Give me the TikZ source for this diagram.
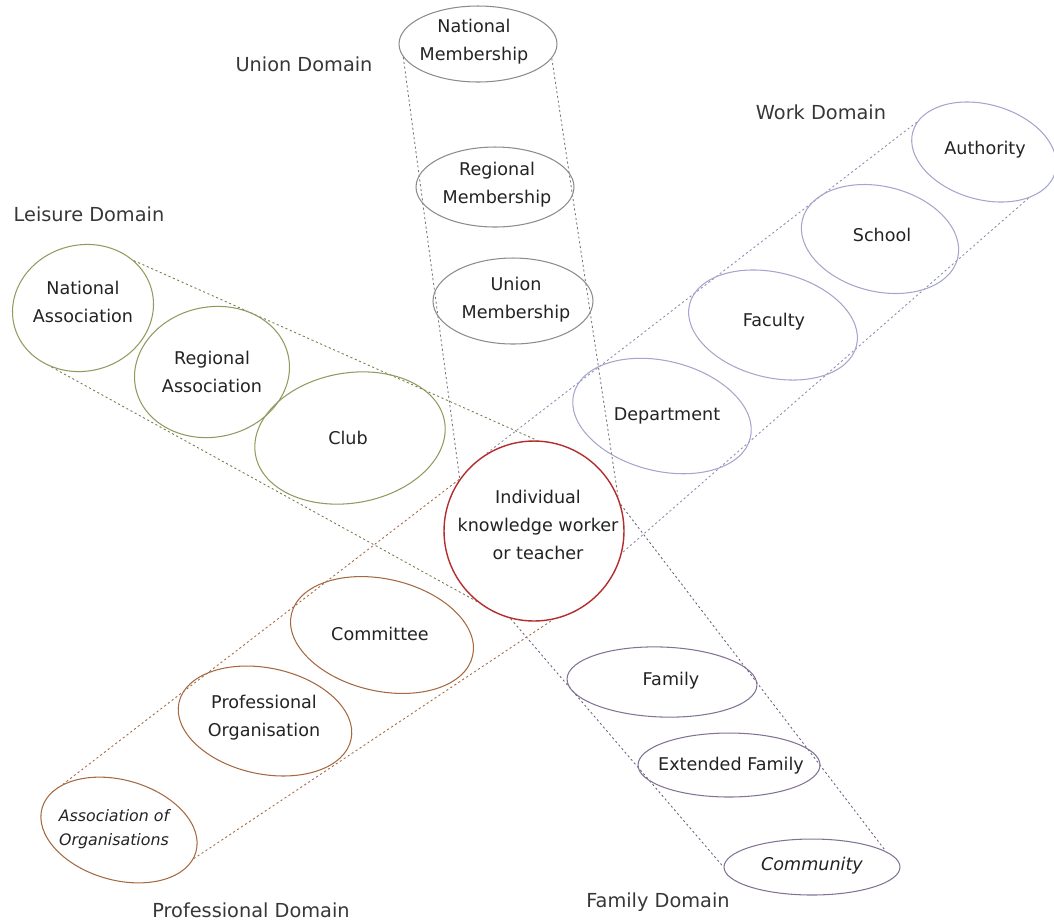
\documentclass[tikz,border=0pt]{standalone}
\usepackage{fontspec}
\setmainfont{DejaVu Sans}
\usetikzlibrary{shapes.geometric,backgrounds}
\definecolor{unionc}{RGB}{140,140,140}
\definecolor{leisurec}{RGB}{145,155,95}
\definecolor{workc}{RGB}{165,165,205}
\definecolor{profc}{RGB}{165,105,65}
\definecolor{familyc}{RGB}{130,115,150}
\definecolor{indc}{RGB}{180,45,45}
\definecolor{txtc}{RGB}{35,35,35}
\definecolor{domc}{RGB}{55,55,55}

\begin{document}
\begin{tikzpicture}[x=0.02cm,y=-0.02cm,
  oval/.style={draw, ellipse, inner sep=0pt, line width=0.6pt},
  lbl/.style={text=txtc, align=center, font=\fontsize{10}{16}\selectfont, inner sep=0pt},
  small/.style={font=\fontsize{9}{14}\selectfont\itshape},
  dom/.style={text=domc, font=\fontsize{11}{13}\selectfont, inner sep=0pt},
  rim/.style={line width=0.5pt, dash pattern=on 1.2pt off 1.5pt}]
\useasboundingbox (0,0) rectangle (1054,921);

% Union domain
\node[oval, unionc, minimum width=3.16cm, minimum height=1.52cm] (natm) at (478,44) {};
\node[oval, unionc, minimum width=3.16cm, minimum height=1.60cm] (regm) at (495,187) {};
\node[oval, unionc, minimum width=3.20cm, minimum height=1.72cm] (unim) at (513,301) {};
\node[lbl] (natmT) at (474,42) {National\\Membership};
\node[lbl] (regmT) at (497,185) {Regional\\Membership};
\node[lbl] (unimT) at (516,300) {Union\\Membership};

% Leisure domain
\node[oval, leisurec, rotate=15, minimum width=2.84cm, minimum height=2.52cm] (natass) at (83,308) {};
\node[oval, leisurec, rotate=12, minimum width=3.12cm, minimum height=2.60cm] (regass) at (212,372) {};
\node[oval, leisurec, rotate=10, minimum width=3.84cm, minimum height=2.60cm] (club) at (350,438) {};
\node[lbl] (natassT) at (83,302) {National\\Association};
\node[lbl] (regassT) at (212,372) {Regional\\Association};
\node[lbl] (clubT) at (348,438) {Club};

% Work domain
\node[oval, workc, rotate=-16, minimum width=2.96cm, minimum height=1.90cm] (auth) at (984,152) {};
\node[oval, workc, rotate=-14, minimum width=3.20cm, minimum height=2.10cm] (school) at (880,239) {};
\node[oval, workc, rotate=-14, minimum width=3.44cm, minimum height=2.10cm] (faculty) at (773,325) {};
\node[oval, workc, rotate=-14, minimum width=3.64cm, minimum height=2.20cm] (dept) at (662,416) {};
\node[lbl] (authT) at (985,150) {Authority};
\node[lbl] (schoolT) at (882,235) {School};
\node[lbl] (facultyT) at (774,322) {Faculty};
\node[lbl] (deptT) at (667,416) {Department};

% Professional domain
\node[oval, profc, rotate=-13, minimum width=3.72cm, minimum height=2.24cm] (committee) at (382,635) {};
\node[oval, profc, rotate=-12, minimum width=3.52cm, minimum height=2.12cm] (proforg) at (265,721) {};
\node[oval, profc, rotate=-16, minimum width=3.20cm, minimum height=2.00cm] (assocorg) at (119,830) {};
\node[lbl] (committeeT) at (380,634) {Committee};
\node[lbl] (proforgT) at (264,718) {Professional\\Organisation};
\node[lbl, small] (assocorgT) at (114,829) {Association of\\Organisations};

% Family domain
\node[oval, familyc, rotate=-2, minimum width=3.80cm, minimum height=1.40cm] (family) at (662,682) {};
\node[oval, familyc, minimum width=3.64cm, minimum height=1.28cm] (extfam) at (729,765) {};
\node[oval, familyc, minimum width=3.52cm, minimum height=1.12cm] (comm) at (812,867) {};
\node[lbl] (familyT) at (671,681) {Family};
\node[lbl] (extfamT) at (731,766) {Extended Family};
\node[lbl, font=\fontsize{10}{16}\selectfont\itshape] (commT) at (812,866) {Community};

% The individual at the centre
\node[draw=indc, fill=white, circle, inner sep=0pt, line width=0.8pt, minimum size=3.6cm] (ind) at (534,531) {};
\node[lbl] (indT) at (538,525) {Individual\\knowledge worker\\or teacher};

% Domain captions
\node[dom] (unionD) at (304,64) {Union Domain};
\node[dom] (workD) at (821,112) {Work Domain};
\node[dom] (leisureD) at (89,214) {Leisure Domain};
\node[dom] (profD) at (251,910) {Professional Domain};
\node[dom] (familyD) at (658,902) {Family Domain};

% Outline of each domain, running from its outermost level to the individual
\begin{scope}[on background layer]
\draw[rim, unionc!85!black] (natm.190) -- (ind.145);
\draw[rim, unionc!85!black] (natm.349) -- (ind.22);
\draw[rim, leisurec!80!black] (natass.28) -- (ind.88);
\draw[rim, leisurec!80!black] (natass.227) -- (ind.231);
\draw[rim, workc!85!black] (auth.172) -- (ind.123);
\draw[rim, workc!85!black] (auth.330) -- (ind.346);
\draw[rim, profc] (assocorg.157) -- (ind.145);
\draw[rim, profc] (assocorg.355) -- (ind.282);
\draw[rim, familyc!85!black] (ind.255) -- (comm.180);
\draw[rim, familyc!85!black] (ind.17) -- (comm.12);
\end{scope}
\end{tikzpicture}
\end{document}
